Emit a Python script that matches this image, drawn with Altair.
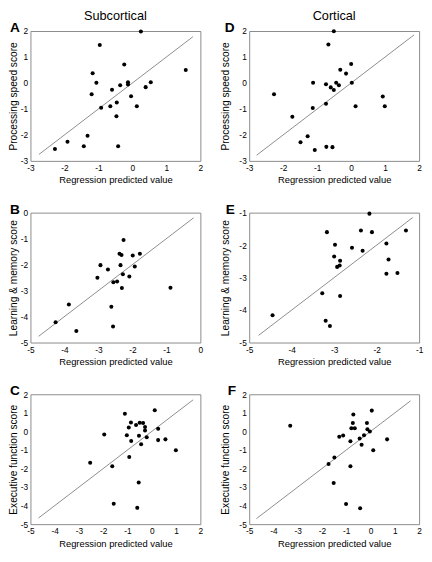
import altair as alt
import pandas as pd

# ---------------- data ----------------
# Panel A: Subcortical, processing speed
A_x = [0.25, -0.96, -0.24, 1.57, -1.17, -1.06, -0.13, -0.13, -0.36, 0.54, 0.39, -0.60,
       -1.20, -0.04, -0.92, -0.65, -0.46, 0.13, -0.47, -1.32, -1.91, -1.43, -0.42, -2.28]
A_y = [1.98, 1.46, 0.71, 0.50, 0.37, 0.01, 0.03, -0.06, -0.09, 0.03, -0.16, -0.26,
       -0.43, -0.51, -0.95, -0.90, -0.75, -0.90, -1.28, -2.03, -2.26, -2.44, -2.44, -2.54]
A_line = [-2.75, 1.78]

# Panel D: Cortical, processing speed
D_x = [-0.51, -0.67, 0.00, -0.32, -0.15, -1.12, -0.74, -0.44, -0.36, -0.60, -0.51, 0.02,
       -2.27, 0.93, -0.74, 0.13, 0.99, -1.13, -1.73, -1.28, -1.49, -0.73, -0.55, -1.07]
D_y = [1.99, 1.48, 0.73, 0.51, 0.36, 0.01, -0.05, 0.01, -0.09, -0.17, -0.27, 0.01,
       -0.43, -0.52, -0.80, -0.90, -0.90, -0.96, -1.30, -2.05, -2.28, -2.46, -2.47, -2.58]
D_line = [-2.78, 1.85]

# Panel B: Subcortical, learning & memory
B_x = [-2.26, -2.38, -2.32, -1.78, -1.99, -2.94, -2.35, -1.93, -2.72, -2.28, -2.09,
       -3.03, -2.56, -2.45, -2.31, -0.88, -2.62, -3.87, -4.26, -2.57, -3.65]
B_y = [-1.05, -1.58, -1.63, -1.58, -1.65, -2.02, -2.02, -2.07, -2.19, -2.37, -2.46,
       -2.51, -2.68, -2.65, -2.90, -2.89, -3.62, -3.54, -4.22, -4.38, -4.56]
B_line = [-4.76, -0.20]

# Panel E: Cortical, learning & memory
E_x = [-2.17, -3.17, -2.37, -2.11, -1.31, -2.98, -1.77, -2.58, -2.33, -3.00, -2.86,
       -1.72, -2.93, -2.87, -1.77, -1.51, -3.28, -2.86, -4.45, -3.20, -3.10]
E_y = [-1.03, -1.60, -1.55, -1.60, -1.55, -1.99, -1.95, -2.08, -2.17, -2.35, -2.48,
       -2.44, -2.67, -2.63, -2.88, -2.86, -3.48, -3.57, -4.16, -4.33, -4.49]
E_line = [-4.78, -1.15]

# Panel C: Subcortical, executive function
C_x = [0.12, -1.11, -0.86, -0.50, -0.36, -0.65, -0.95, -0.28, 0.26, -0.28, -1.96, -1.03,
       -0.53, -0.21, -0.85, 0.26, 0.56, -0.44, 0.99, -0.93, -2.54, -1.63, -0.54, -1.57, -0.60]
C_y = [1.14, 0.95, 0.48, 0.47, 0.45, 0.34, 0.21, 0.24, 0.14, 0.05, -0.17, -0.21,
       -0.24, -0.31, -0.52, -0.47, -0.43, -0.69, -1.02, -1.38, -1.69, -1.88, -2.76, -3.90, -4.12]
C_line = [-4.67, 1.70]

# Panel F: Cortical, executive function
F_x = [0.05, -0.71, -0.15, -0.73, -3.31, -0.79, -0.65, -0.13, -0.03, -0.27, -1.13, -1.29,
       -0.45, 0.68, -0.83, -0.37, 0.11, -1.49, -1.73, -0.83, -1.52, -1.01, -0.43]
F_y = [1.12, 0.91, 0.45, 0.45, 0.31, 0.17, 0.17, 0.12, -0.01, -0.21, -0.22, -0.29,
       -0.38, -0.43, -0.53, -0.72, -1.02, -1.41, -1.76, -1.88, -2.78, -3.91, -4.14]
F_line = [-4.70, 1.65]

X_TITLE = "Regression predicted value"
Y_TITLES = ["Processing speed score", "Learning & memory score", "Executive function score"]
COL_TITLES = ["Subcortical", "Cortical"]
LETTERS = ["A", "B", "C", "D", "E", "F"]

FONT = "Liberation Sans"
W, H = 174, 133


def panel(xs, ys, line, xdom, ydom, ytitle, letter, col_title, title_x, letter_x):
    pts = pd.DataFrame({"x": xs, "y": ys})
    ln = pd.DataFrame({"x": line, "y": line})
    xticks = list(range(xdom[0], xdom[1] + 1))
    yticks = list(range(ydom[0], ydom[1] + 1))
    xenc = alt.X(
        "x:Q",
        scale=alt.Scale(domain=xdom, nice=False, zero=False),
        axis=alt.Axis(values=xticks, title=X_TITLE, labelFlush=False,
                      labelExpr="replace(datum.label, '\u2212', '-')",
                      labelPadding=3, titlePadding=3, titleFontSize=9.6),
    )
    yenc = alt.Y(
        "y:Q",
        scale=alt.Scale(domain=ydom, nice=False, zero=False),
        axis=alt.Axis(values=yticks, title=ytitle, labelFlush=False,
                      labelExpr="replace(datum.label, '\u2212', '-')",
                      labelPadding=3, titleX=title_x, titleBaseline="bottom",
                      titleFontSize=10.4),
    )
    line_layer = alt.Chart(ln).mark_line(color="#6e6e6e", strokeWidth=0.8).encode(x=xenc, y=yenc)
    pt_layer = alt.Chart(pts).mark_circle(size=17, color="black", opacity=1).encode(x=xenc, y=yenc)
    letter_layer = alt.Chart(pd.DataFrame({"t": [letter]})).mark_text(
        font=FONT, fontSize=14, fontWeight="bold", align="left", baseline="alphabetic", color="black"
    ).encode(text="t:N", x=alt.value(letter_x), y=alt.value(1))
    layers = [line_layer, pt_layer, letter_layer]
    if col_title:
        t_layer = alt.Chart(pd.DataFrame({"t": [col_title]})).mark_text(
            font=FONT, fontSize=13, align="center", baseline="alphabetic", color="black"
        ).encode(text="t:N", x=alt.value(W / 2), y=alt.value(-11))
        layers.append(t_layer)
    return alt.layer(*layers).properties(width=W, height=H)


pA = panel(A_x, A_y, A_line, [-3, 2], [-3, 2], Y_TITLES[0], LETTERS[0], COL_TITLES[0], -12, -21)
pB = panel(B_x, B_y, B_line, [-5, 0], [-5, 0], Y_TITLES[1], LETTERS[1], None, -12, -21)
pC = panel(C_x, C_y, C_line, [-5, 2], [-5, 2], Y_TITLES[2], LETTERS[2], None, -12, -21)
pD = panel(D_x, D_y, D_line, [-3, 2], [-3, 2], Y_TITLES[0], LETTERS[3], COL_TITLES[1], -19, -25)
pE = panel(E_x, E_y, E_line, [-5, -1], [-5, -1], Y_TITLES[1], LETTERS[4], None, -19, -24)
pF = panel(F_x, F_y, F_line, [-5, 2], [-5, 2], Y_TITLES[2], LETTERS[5], None, -19, -22)

chart = alt.concat(
    pA, pD, pB, pE, pC, pF, columns=2,
    spacing={"row": 53, "column": 50}, bounds="flush"
).properties(
    padding={"top": -5, "left": 0, "right": 0, "bottom": 0}
).configure_view(
    stroke="#8a8a8a", strokeWidth=1
).configure_axis(
    labelFont=FONT, titleFont=FONT, labelFontSize=8.5, labelColor="black",
    titleColor="black", titleFontWeight="normal", ticks=False, domain=False, grid=False
)

chart.save("out.html", embed_options={"renderer": "svg", "actions": False})
